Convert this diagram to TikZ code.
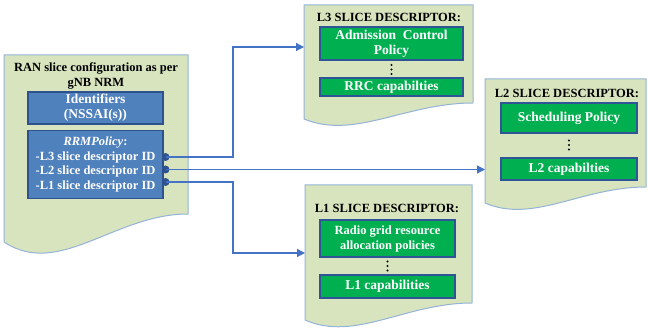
\documentclass[tikz,border=0pt]{standalone}
\usepackage{fontspec}
\setmainfont{Liberation Serif}
\usetikzlibrary{arrows.meta}

\definecolor{docgreen}{HTML}{D7E4BD}
\definecolor{docedge}{HTML}{95B3D7}
\definecolor{rrmblue}{HTML}{4F81BD}
\definecolor{rrmedge}{HTML}{2F528F}
\definecolor{slicegreen}{HTML}{00B050}
\definecolor{sliceedge}{HTML}{2F5597}
\definecolor{linkblue}{HTML}{4472C4}

\tikzset{
  doc/.style={fill=docgreen, draw=docedge, line width=1pt},
  bluebox/.style={draw=rrmedge, fill=rrmblue, line width=1.8pt, text=white,
    font=\fontsize{13.5}{15}\selectfont\bfseries, align=center, inner sep=0pt},
  greenbox/.style={draw=sliceedge, fill=slicegreen, line width=1.8pt, text=white,
    font=\fontsize{13.5}{15}\selectfont\bfseries, align=center, inner sep=0pt},
  title/.style={font=\fontsize{12.5}{15}\selectfont\bfseries, align=center, inner sep=0pt},
  link/.style={draw=linkblue, line width=1.2pt},
  port/.style={circle, fill=rrmedge, inner sep=0pt, minimum size=8pt},
}

% document shape: x1, top, x2, left bottom, right bottom
\newcommand{\slicedoc}[5]{%
  \pgfmathsetmacro{\dw}{#3-#1}%
  \pgfmathsetmacro{\dk}{#4+1.3*(#4-#5)}%
  \path[doc] (#1,#2) -- (#3,#2) -- (#3,#5)
    .. controls (#1+0.6*\dw,#5) and (#1+0.3*\dw,\dk) .. (#1,#4) -- cycle;
}
% three dots between two boxes
\newcommand{\moredots}[1]{%
  \foreach \d in {-4.5,0,4.5} \fill (#1) ++(0,\d) circle [radius=1.1pt];
}

\begin{document}
\begin{tikzpicture}[x=1pt, y=-1pt]
  \useasboundingbox (0,0) rectangle (648,328);

  % the four documents
  \slicedoc{4}{55}{188}{242}{214}
  \slicedoc{304}{5}{473}{119}{103}
  \slicedoc{485}{79}{646}{203}{187}
  \slicedoc{305}{185}{472}{320}{303}

  % RAN slice configuration
  \node[title] (ran) at (96,75.5) {RAN slice configuration as per\\gNB NRM};

  % links to the slice descriptors
  \coordinate (l3in) at (304,47);
  \coordinate (l3turn) at (233,47);
  \coordinate (l2in) at (485,169.5);
  \coordinate (l1in) at (305,253);
  \coordinate (l1turn) at (233,253);

  \node[port] (p3) at (165.5,157) {};
  \node[port] (p2) at (165.5,169.5) {};
  \node[port] (p1) at (165.5,182) {};

  \draw[link, -{Triangle[length=8pt,width=8pt]}] (p3.center) -| (l3turn) -- (l3in);
  \draw[link, -{Triangle[length=8pt,width=8pt]}] (p2.center) -- (l2in);
  \draw[link, -{Triangle[length=8pt,width=8pt]}] (p1.center) -| (l1turn) -- (l1in);

  \node[bluebox, minimum width=135pt, minimum height=32pt] (ids) at (95.5,108)
    {Identifiers\\(NSSAI(s))};
  \node[bluebox, minimum width=135pt, minimum height=68pt,
    font=\fontsize{12.5}{14.5}\selectfont\bfseries] (rrm) at (95.5,164.5)
    {\textit{RRMPolicy}:\\-L3 slice descriptor ID\\-L2 slice descriptor ID\\-L1 slice descriptor ID};

  % L3
  \node[title] (l3t) at (389,17) {L3 SLICE DESCRIPTOR:};
  \node[greenbox, minimum width=143pt, minimum height=33pt] (adm) at (391.5,43.5)
    {Admission\hspace{0.5em}Control\\Policy};
  \coordinate (l3dots) at (391.5,69.5);
  \moredots{l3dots}
  \node[greenbox, minimum width=143pt, minimum height=18pt] (rrc) at (391.5,87)
    {RRC capabilties};

  % L2
  \node[title] (l2t) at (567,93) {L2 SLICE DESCRIPTOR:};
  \node[greenbox, minimum width=136pt, minimum height=30pt] (sched) at (569,118)
    {Scheduling Policy};
  \coordinate (l2dots) at (569,145);
  \moredots{l2dots}
  \node[greenbox, minimum width=136pt, minimum height=22pt] (l2cap) at (569,169)
    {L2 capabilties};

  % L1
  \node[title] (l1t) at (387,208) {L1 SLICE DESCRIPTOR:};
  \node[greenbox, minimum width=135pt, minimum height=37pt,
    font=\fontsize{12.5}{15}\selectfont\bfseries] (radio) at (387.5,238.5)
    {Radio grid resource\\allocation policies};
  \coordinate (l1dots) at (387.5,266);
  \moredots{l1dots}
  \node[greenbox, minimum width=135pt, minimum height=23pt] (l1cap) at (387.5,286.5)
    {L1 capabilities};
\end{tikzpicture}
\end{document}
